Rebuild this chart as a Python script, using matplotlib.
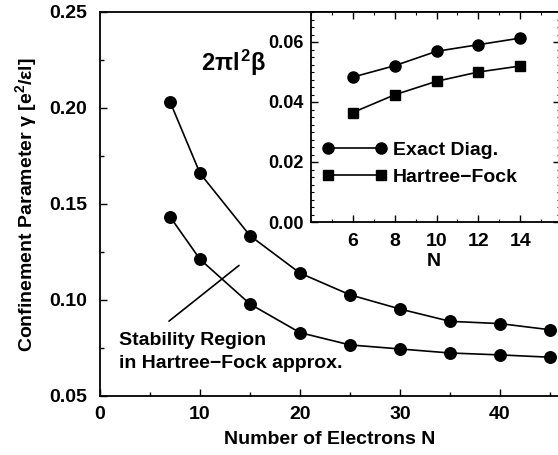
import matplotlib
matplotlib.use("Agg")
import matplotlib.pyplot as plt
from matplotlib.ticker import MultipleLocator

plt.rcParams['font.family'] = ['Liberation Sans', 'DejaVu Sans']
plt.rcParams['mathtext.fontset'] = 'custom'
plt.rcParams['mathtext.rm'] = 'Liberation Sans:bold'
plt.rcParams['mathtext.it'] = 'Liberation Sans:bold'
plt.rcParams['mathtext.bf'] = 'Liberation Sans:bold'

# ---- main data ----
n_main = [7, 10, 15, 20, 25, 30, 35, 40, 45]
gamma_upper = [0.2033, 0.166, 0.1335, 0.1140, 0.1027, 0.0953, 0.0889, 0.0877, 0.0845]
gamma_lower = [0.1434, 0.1212, 0.0979, 0.0830, 0.0766, 0.0745, 0.0724, 0.0714, 0.0702]
main_xticks = [0, 10, 20, 30, 40]
main_yticks = [0.05, 0.10, 0.15, 0.20, 0.25]

# ---- inset data ----
n_inset = [6, 8, 10, 12, 14]
beta_exact = [0.0483, 0.0521, 0.0569, 0.0591, 0.0613]
beta_hf = [0.0365, 0.0424, 0.0469, 0.0500, 0.0520]
inset_xticks = [6, 8, 10, 12, 14]
inset_yticks = [0.00, 0.02, 0.04, 0.06]
legend_labels = ['Exact Diag.', 'Hartree\u2212Fock']

# annotation line (data coords)
annot_start = (6.9, 0.089)
annot_end = (13.9, 0.118)
stab_text_pos = (1.9, 0.0728)

W, H = 558, 455
fig = plt.figure(figsize=(W / 100, H / 100), dpi=100)

FS = 14
WT = 'bold'

# main axes: left 100px, right ~560px, top 12px, bottom 396px
ax = fig.add_axes([100 / W, (H - 396) / H, 460 / W, 384 / H])
ax.plot(n_main, gamma_upper, '-o', color='black', lw=1.2, ms=8.3, zorder=3)
ax.plot(n_main, gamma_lower, '-o', color='black', lw=1.2, ms=8.3, zorder=3)
ax.set_xlim(0, 46)
ax.set_ylim(0.05, 0.25)
ax.set_xticks(main_xticks)
ax.set_yticks(main_yticks)
ax.set_xticklabels([str(v) for v in main_xticks], fontsize=FS, fontweight=WT)
ax.set_yticklabels([f'{v:.2f}' for v in main_yticks], fontsize=FS, fontweight=WT)
ax.xaxis.set_minor_locator(MultipleLocator(5))
ax.yaxis.set_minor_locator(MultipleLocator(0.025))
ax.tick_params(which='major', direction='in', length=5, width=1.0)
ax.tick_params(which='minor', direction='in', length=3, width=1.0)
ax.tick_params(axis='y', which='major', pad=9.5)
ax.tick_params(axis='x', which='major', pad=7)
ax.spines['right'].set_visible(False)
for s in ['left', 'bottom', 'top']:
    ax.spines[s].set_linewidth(1.3)
ax.set_xlabel('Number of Electrons N', fontsize=FS, fontweight=WT, va='center')
ax.xaxis.set_label_coords((330 - 100) / 460, (396 - 439) / 384)
ax.set_ylabel('Confinement Parameter \u03b3 [e$^2$/\u03b5l]', fontsize=FS,
              fontweight=WT, va='center')
ax.yaxis.set_label_coords((26 - 100) / 460, (396 - 205) / 384)

ax.annotate('', xy=annot_end, xytext=annot_start,
            arrowprops=dict(arrowstyle='-', lw=1.2, color='black',
                            shrinkA=0, shrinkB=0))
ax.text(stab_text_pos[0], stab_text_pos[1],
        'Stability Region\nin Hartree\u2212Fock approx.',
        fontsize=FS, fontweight=WT, ha='left', va='center', linespacing=1.45)

# inset axes: left 311px, right ~560px, top 12px, bottom 222px
axi = fig.add_axes([311 / W, (H - 222) / H, 249 / W, 210 / H])
l1, = axi.plot(n_inset, beta_exact, '-o', color='black', lw=1.2, ms=8, zorder=3)
l2, = axi.plot(n_inset, beta_hf, '-s', color='black', lw=1.2, ms=7, zorder=3)
axi.set_xlim(4, 15.9)
axi.set_ylim(0.0, 0.07)
axi.set_xticks(inset_xticks)
axi.set_yticks(inset_yticks)
axi.set_xticklabels([str(v) for v in inset_xticks], fontsize=FS, fontweight=WT)
axi.set_yticklabels([f'{v:.2f}' for v in inset_yticks], fontsize=13, fontweight=WT)
axi.xaxis.set_minor_locator(MultipleLocator(1))
axi.yaxis.set_minor_locator(MultipleLocator(0.0025))
axi.tick_params(which='major', direction='in', length=5, width=1.0,
                top=True, right=True)
axi.tick_params(which='minor', direction='in', length=2.5, width=0.8,
                top=True, right=True)
axi.tick_params(axis='y', which='major', pad=5.5)
axi.tick_params(axis='x', which='major', pad=8)
for s in axi.spines.values():
    s.set_linewidth(1.3)
axi.set_xlabel('N', fontsize=FS, fontweight=WT, va='center')
axi.xaxis.set_label_coords((434 - 311) / 249, (222 - 262) / 210)

axi.legend([l1, l2], legend_labels, loc='upper left', numpoints=2,
           frameon=False, borderpad=0, borderaxespad=0,
           handlelength=3.33, handletextpad=0.33, labelspacing=0.5,
           prop={'size': FS, 'weight': WT},
           bbox_to_anchor=(322 / W, 1 - 141 / H), bbox_transform=fig.transFigure)

fig.text(234 / W, 1 - 63 / H, r'$2\pi l^2\beta$', fontsize=17,
         ha='center', va='center')

fig.savefig('out.png', dpi=100)
